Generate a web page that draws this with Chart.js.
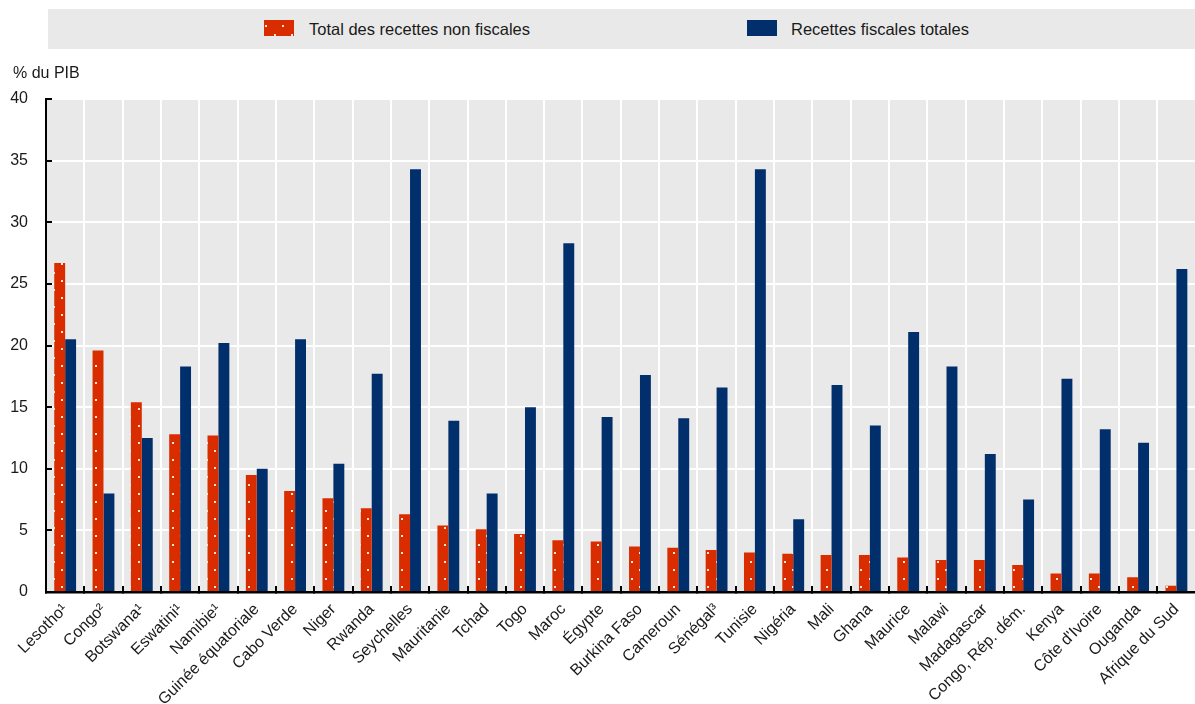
<!DOCTYPE html>
<html>
<head>
<meta charset="utf-8">
<script src="https://cdn.jsdelivr.net/npm/chart.js@4.4.1/dist/chart.umd.min.js"></script>
<style>
html,body{margin:0;padding:0;background:#fff;overflow:hidden;width:1195px;height:704px;}
#wrap{position:relative;width:1204px;height:704px;}
#c{position:absolute;left:0;top:0;}
.lg{position:absolute;left:48px;top:9px;width:1156px;height:40px;background:#e9e9e9;}
.sw{position:absolute;top:20px;width:30px;height:16px;}
.lt{position:absolute;top:9px;height:40px;font:16.5px 'Liberation Sans',Arial,Helvetica,sans-serif;line-height:40px;color:#1a1a1a;white-space:nowrap;}
.yt{position:absolute;left:13px;top:65px;font:16px 'Liberation Sans',Arial,Helvetica,sans-serif;line-height:16px;color:#1a1a1a;white-space:nowrap;}
</style>
</head>
<body>
<div id="wrap">
  <canvas id="c" width="1204" height="704"></canvas>
  <div class="lg"></div>
  <canvas id="sw1" class="sw" width="30" height="16" style="left:264px"></canvas>
  <div class="lt" id="lt1" style="left:309px"></div>
  <div class="sw" style="left:747px;width:30px;background:#002f6c"></div>
  <div class="lt" id="lt2" style="left:791px"></div>
  <div class="yt" id="yt"></div>
</div>
<script>
// ---- data ----
const categories = ['Lesotho¹','Congo²','Botswana¹','Eswatini¹','Namibie¹','Guinée équatoriale','Cabo Verde','Niger','Rwanda','Seychelles','Mauritanie','Tchad','Togo','Maroc','Égypte','Burkina Faso','Cameroun','Sénégal³','Tunisie','Nigéria','Mali','Ghana','Maurice','Malawi','Madagascar','Congo, Rép. dém.','Kenya',"Côte d'Ivoire",'Ouganda','Afrique du Sud'];
const nonTaxRevenue = [26.7,19.6,15.4,12.8,12.7,9.5,8.2,7.6,6.8,6.3,5.4,5.1,4.7,4.2,4.1,3.7,3.6,3.4,3.2,3.1,3.0,3.0,2.8,2.6,2.6,2.2,1.5,1.5,1.2,0.5];
const taxRevenue = [20.5,8.0,12.5,18.3,20.2,10.0,20.5,10.4,17.7,34.3,13.9,8.0,15.0,28.3,14.2,17.6,14.1,16.6,34.3,5.9,16.8,13.5,21.1,18.3,11.2,7.5,17.3,13.2,12.1,26.2];
const yTicks = [0,5,10,15,20,25,30,35,40];
const seriesLabels = ['Total des recettes non fiscales','Recettes fiscales totales'];
const yAxisTitle = '% du PIB';

const ORANGE = '#d92d00';
const BLUE = '#002f6c';
const FONT = "'Liberation Sans', Arial, Helvetica, sans-serif";
const TXT = '#1a1a1a';

document.getElementById('lt1').textContent = seriesLabels[0];
document.getElementById('lt2').textContent = seriesLabels[1];
document.getElementById('yt').textContent = yAxisTitle;

function makeTile(){
  const t = document.createElement('canvas');
  t.width = 17; t.height = 17;
  const g = t.getContext('2d');
  g.fillStyle = ORANGE; g.fillRect(0,0,17,17);
  g.fillStyle = 'rgba(255,240,235,0.95)';
  g.fillRect(2,0,2,2);
  g.fillRect(10,8,2,2);
  return t;
}
const tile = makeTile();
const ctx = document.getElementById('c').getContext('2d');
const pattern = ctx.createPattern(tile,'repeat');

// legend swatch with page-anchored pattern
(function(){
  const s = document.getElementById('sw1').getContext('2d');
  const p = s.createPattern(tile,'repeat');
  s.translate(-264,-20);
  s.fillStyle = p;
  s.fillRect(264,20,30,16);
})();

const plotBg = {
  id:'plotBg',
  beforeDraw(chart){
    const {ctx, chartArea:a} = chart;
    ctx.save();
    ctx.fillStyle = '#e9e9e9';
    ctx.fillRect(a.left, a.top, a.right-a.left, a.bottom-a.top);
    ctx.restore();
  }
};

new Chart(ctx, {
  type:'bar',
  data:{
    labels: categories,
    datasets:[
      {label: seriesLabels[0], data: nonTaxRevenue, backgroundColor: pattern, borderWidth:0},
      {label: seriesLabels[1], data: taxRevenue, backgroundColor: BLUE, borderWidth:0}
    ]
  },
  options:{
    responsive:false,
    animation:false,
    devicePixelRatio:1,
    layout:{padding:{top:99,left:0,right:0,bottom:0}},
    plugins:{legend:{display:false}, tooltip:{enabled:false}, title:{display:false}},
    datasets:{bar:{categoryPercentage:0.57, barPercentage:1}},
    scales:{
      x:{
        offset:true,
        grid:{color:'#ffffff', lineWidth:2, tickColor:'#000', tickWidth:2, tickLength:-6, offset:true},
        border:{color:'#000', width:2.5},
        ticks:{autoSkip:false, minRotation:45, maxRotation:45, padding:14, color:TXT, font:{family:FONT, size:16}},
        afterFit(s){ s.height = 112; }
      },
      y:{
        min:0, max:40,
        afterBuildTicks(s){ s.ticks = yTicks.map(v=>({value:v})); },
        grid:{color:'#ffffff', lineWidth:2, tickColor:'#000', tickWidth:2, tickLength:-6},
        border:{color:'#000', width:2},
        ticks:{padding:24, color:TXT, font:{family:FONT, size:16}},
        afterFit(s){ s.width = 46; }
      }
    }
  },
  plugins:[plotBg]
});
</script>
</body>
</html>
